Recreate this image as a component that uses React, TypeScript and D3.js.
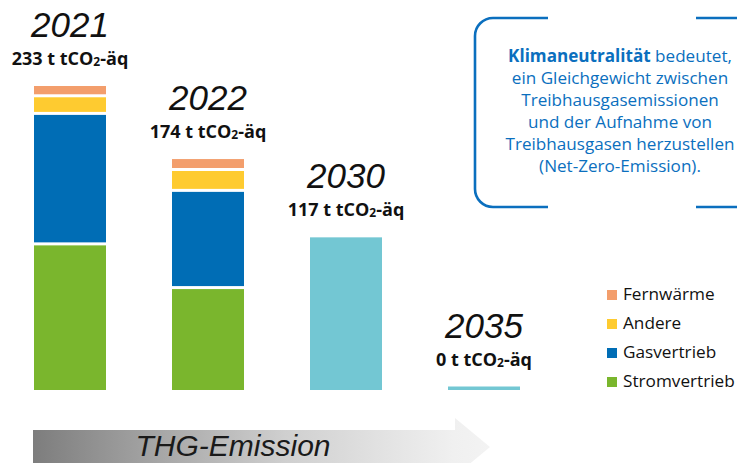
import React from 'react';
import * as d3 from 'd3';

const years = ['2021', '2022', '2030', '2035'];
const totalLabels = ['233', '174', '117', '0'];
const stromvertrieb = [112, 78.5, 0, 0];
const gasvertrieb = [100, 74.5, 0, 0];
const andere = [13.5, 16, 0, 0];
const fernwaerme = [7.5, 8, 0, 0];
const zielwert: (number | null)[] = [null, null, 117, 0];

const seriesNames = ['Fernwärme', 'Andere', 'Gasvertrieb', 'Stromvertrieb'];
const seriesColors: Record<string, string> = {
  Stromvertrieb: '#7AB62D',
  Gasvertrieb: '#006DB5',
  Andere: '#FECB30',
  Fernwärme: '#F39E6C',
};
const zielColor = '#73C7D3';

const infoBold = 'Klimaneutralität';
const infoLines = [
  ' bedeutet,',
  'ein Gleichgewicht zwischen',
  'Treibhausgasemissionen',
  'und der Aufnahme von',
  'Treibhausgasen herzustellen',
  '(Net-Zero-Emission).',
];
const arrowLabel = 'THG-Emission';

const W = 737;
const H = 463;

export default function App() {
  const rows = years.map((y, i) => ({
    year: y,
    Stromvertrieb: stromvertrieb[i],
    Gasvertrieb: gasvertrieb[i],
    Andere: andere[i],
    Fernwärme: fernwaerme[i],
  }));
  const keys = ['Stromvertrieb', 'Gasvertrieb', 'Andere', 'Fernwärme'];
  const stack = d3.stack<any>().keys(keys)(rows);

  const x = d3.scaleBand<string>().domain(years).range([34, 520]).paddingInner(66 / 138).paddingOuter(0);
  const y = d3.scaleLinear().domain([0, 233]).range([390, 86]);
  const gap = 1.5;

  const tops = years.map((_, i) => {
    const t = stromvertrieb[i] + gasvertrieb[i] + andere[i] + fernwaerme[i];
    const z = zielwert[i];
    if (z !== null) return Math.min(y(z), y(0) - 3.5);
    return y(t);
  });

  const hand = "'Liberation Sans', 'DejaVu Sans', sans-serif";
  const sans = "'Open Sans', 'Noto Sans', sans-serif";
  const blue = '#0B6FBE';

  const legendX = 607;
  const legendY = d3.scalePoint<string>().domain(seriesNames).range([290, 377]);

  return (
    <svg width={W} height={H} style={{ position: 'absolute', left: 0, top: 0 }} fontFamily={sans}>
      <defs>
        <linearGradient id="arrowGrad" x1="33" x2="490" y1="0" y2="0" gradientUnits="userSpaceOnUse">
          <stop offset="0" stopColor="#7d7d7d" />
          <stop offset="0.55" stopColor="#cfcfcf" />
          <stop offset="0.92" stopColor="#f0f0f0" />
          <stop offset="1" stopColor="#f3f3f3" />
        </linearGradient>
      </defs>
      <rect width={W} height={H} fill="#fff" />

      {/* stacked bars */}
      {stack.map((s, si) =>
        s.map((d, i) => {
          const v = d[1] - d[0];
          if (v <= 0) return null;
          const isBottom = d[0] === 0;
          const isTop = si === stack.length - 1 || stack.slice(si + 1).every((o) => o[i][1] - o[i][0] <= 0);
          const y0 = y(d[1]) + (isTop ? 0 : gap);
          const y1 = y(d[0]) - (isBottom ? 0 : gap);
          return (
            <rect
              key={`${s.key}-${i}`}
              x={x(years[i])}
              y={y0}
              width={x.bandwidth()}
              height={Math.max(0, y1 - y0)}
              fill={seriesColors[s.key as string]}
            />
          );
        })
      )}

      {/* target bars */}
      {zielwert.map((z, i) => {
        if (z === null) return null;
        const h = Math.max(y(0) - y(z), 3.5);
        return <rect key={`z${i}`} x={x(years[i])} y={y(0) - h} width={x.bandwidth()} height={h} fill={zielColor} />;
      })}

      {/* labels */}
      {years.map((yr, i) => {
        const cx = (x(yr) as number) + x.bandwidth() / 2;
        return (
          <g key={`l${i}`}>
            <text x={cx} y={tops[i] - 49} textAnchor="middle" fontFamily={hand} fontStyle="italic" fontSize={35} fill="#111">
              {yr}
            </text>
            <text x={cx} y={tops[i] - 21} textAnchor="middle" fontWeight={700} fontSize={18} fill="#111">
              {totalLabels[i]} t tCO
              <tspan fontSize={12} dy={1}>2</tspan>
              <tspan dy={-1}>-äq</tspan>
            </text>
          </g>
        );
      })}

      {/* info box brackets */}
      <path d="M548,18 H493 A18,18 0 0 0 475,36 V189 A18,18 0 0 0 493,207 H548" fill="none" stroke={blue} strokeWidth={2.6} />
      <path d="M696,18 H749 A18,18 0 0 1 767,36 V189 A18,18 0 0 1 749,207 H696" fill="none" stroke={blue} strokeWidth={2.6} />
      <text x={620} y={62} textAnchor="middle" fontSize={17.1} fill={blue}>
        <tspan fontWeight={700}>{infoBold}</tspan>
        <tspan>{infoLines[0]}</tspan>
      </text>
      {infoLines.slice(1).map((l, i) => (
        <text key={`il${i}`} x={620} y={62 + (i + 1) * 22} textAnchor="middle" fontSize={17.1} fill={blue}>
          {l}
        </text>
      ))}

      {/* legend */}
      {seriesNames.map((n) => (
        <g key={n} transform={`translate(${legendX},${legendY(n)})`}>
          <rect width={10} height={10} fill={seriesColors[n]} />
          <text x={16} y={9.5} fontSize={17.2} fill="#111">
            {n}
          </text>
        </g>
      ))}

      {/* arrow */}
      <path d="M33,430 H455 V418 L490,447 L455,476 V464 H33 Z" fill="url(#arrowGrad)" />
      <text x={233} y={456} textAnchor="middle" fontFamily={hand} fontStyle="italic" fontSize={30} fill="#1a1a1a">
        {arrowLabel}
      </text>
    </svg>
  );
}
